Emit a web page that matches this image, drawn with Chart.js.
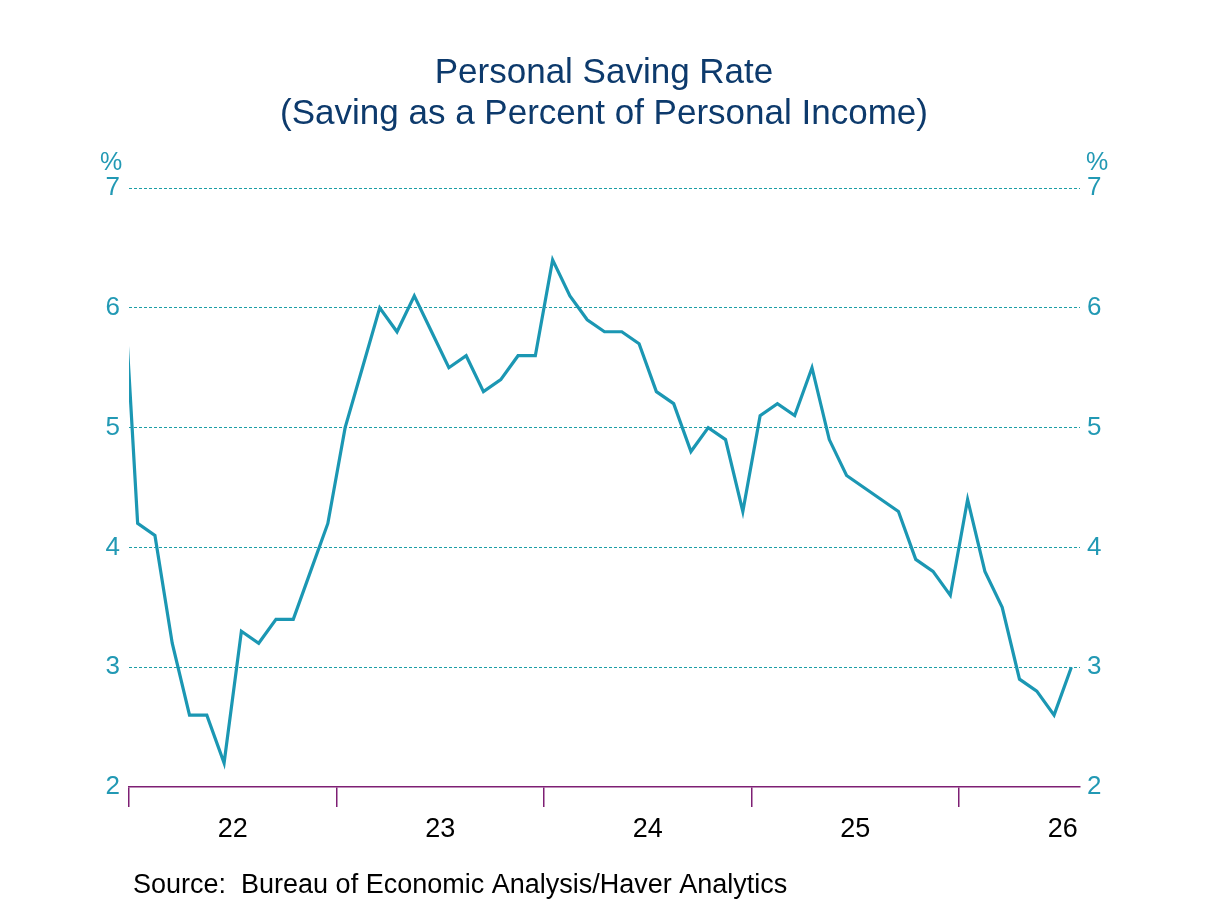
<!DOCTYPE html>
<html>
<head>
<meta charset="utf-8">
<title>Personal Saving Rate</title>
<script src="https://cdn.jsdelivr.net/npm/chart.js@4/dist/chart.umd.min.js"></script>
<style>
  html, body { margin: 0; padding: 0; background: #fff; }
  #wrap { width: 1208px; height: 906px; }
</style>
</head>
<body>
<div id="wrap"><canvas id="savingChart" width="1208" height="906"></canvas></div>
<script>
// monthly saving rate, Dec 2021 .. Jul 2026 (first point sits left of the axis and is clipped)
const months = [
    "Dec 21",
    "Jan 22","Feb 22","Mar 22","Apr 22","May 22","Jun 22","Jul 22","Aug 22","Sep 22","Oct 22","Nov 22","Dec 22",
    "Jan 23","Feb 23","Mar 23","Apr 23","May 23","Jun 23","Jul 23","Aug 23","Sep 23","Oct 23","Nov 23","Dec 23",
    "Jan 24","Feb 24","Mar 24","Apr 24","May 24","Jun 24","Jul 24","Aug 24","Sep 24","Oct 24","Nov 24","Dec 24",
    "Jan 25","Feb 25","Mar 25","Apr 25","May 25","Jun 25","Jul 25","Aug 25","Sep 25","Oct 25","Nov 25","Dec 25",
    "Jan 26","Feb 26","Mar 26","Apr 26","May 26","Jun 26","Jul 26"
];
const savingRate = [
    6.7,
    4.2, 4.1, 3.2, 2.6, 2.6, 2.2, 3.3, 3.2, 3.4, 3.4, 3.8, 4.2,
    5.0, 5.5, 6.0, 5.8, 6.1, 5.8, 5.5, 5.6, 5.3, 5.4, 5.6, 5.6,
    6.4, 6.1, 5.9, 5.8, 5.8, 5.7, 5.3, 5.2, 4.8, 5.0, 4.9, 4.3,
    5.1, 5.2, 5.1, 5.5, 4.9, 4.6, 4.5, 4.4, 4.3, 3.9, 3.8, 3.6,
    4.4, 3.8, 3.5, 2.9, 2.8, 2.6, 3.0
];
const yearLabels = ["22", "23", "24", "25", "26"];
const yTicks = [2, 3, 4, 5, 6, 7];

const FONT = "'Liberation Sans', Arial, sans-serif";
const TEAL = "#2299b4";
const NAVY = "#0d3a6c";
const PURPLE = "#7e1f74";

// x is months since Jan 2022; each value sits mid-month
const points = savingRate.map((v, i) => ({ x: i - 0.5, y: v }));
const lastMonth = months.length - 1; // axis runs to end of the last month

const textPlugin = {
    id: "texts",
    afterDraw(chart) {
        const ctx = chart.ctx;
        ctx.save();
        ctx.textBaseline = "middle";
        ctx.textAlign = "center";
        ctx.fillStyle = NAVY;
        ctx.font = "35px " + FONT;
        ctx.fillText("Personal Saving Rate", 604, 73);
        ctx.fillText("(Saving as a Percent of Personal Income)", 604, 114);

        ctx.fillStyle = TEAL;
        ctx.font = "25px " + FONT;
        ctx.fillText("%", 111, 163);
        ctx.fillText("%", 1097, 163);

        ctx.textAlign = "left";
        ctx.fillStyle = "#000";
        ctx.font = "27px " + FONT;
        ctx.fillText("Source:  Bureau of Economic Analysis/Haver Analytics", 133, 886);
        ctx.restore();
    }
};

new Chart(document.getElementById("savingChart"), {
    type: "line",
    data: {
        labels: months,
        datasets: [{
            data: points,
            borderColor: "#1b97b3",
            borderWidth: 3.2,
            pointRadius: 0,
            tension: 0,
            clip: 0
        }]
    },
    options: {
        responsive: false,
        animation: false,
        layout: { padding: { top: 188, left: 0, right: 0, bottom: 0 } },
        plugins: { legend: { display: false }, tooltip: { enabled: false } },
        scales: {
            x: {
                type: "linear",
                min: 0,
                max: lastMonth,
                afterFit: s => { s.height = 119; },
                afterBuildTicks: s => {
                    s.ticks = [];
                    for (let v = 0; v < lastMonth; v += 6) s.ticks.push({ value: v });
                },
                grid: {
                    drawOnChartArea: false,
                    tickLength: 20,
                    color: c => (c.tick && c.tick.value % 12 === 0) ? PURPLE : "rgba(0,0,0,0)",
                    lineWidth: 1.5
                },
                border: { color: PURPLE, width: 1.5 },
                ticks: {
                    autoSkip: false,
                    maxRotation: 0,
                    padding: 6,
                    color: "#000",
                    font: { family: FONT, size: 27 },
                    callback: v => (v % 12 === 6) ? yearLabels[(v - 6) / 12] : ""
                }
            },
            y: {
                position: "left",
                min: 2,
                max: 7,
                afterFit: s => { s.width = 129; },
                afterBuildTicks: s => { s.ticks = yTicks.map(v => ({ value: v })); },
                grid: {
                    drawTicks: false,
                    color: c => (c.tick && c.tick.value === 2) ? "rgba(0,0,0,0)" : "#1c9fa6",
                    lineWidth: 1
                },
                border: { display: false, dash: [3, 2] },
                ticks: { color: TEAL, padding: 9, font: { family: FONT, size: 26 } }
            },
            yRight: {
                position: "right",
                min: 2,
                max: 7,
                afterFit: s => { s.width = 128; },
                afterBuildTicks: s => { s.ticks = yTicks.map(v => ({ value: v })); },
                grid: { display: false, drawTicks: false },
                border: { display: false },
                ticks: { color: TEAL, padding: 7, font: { family: FONT, size: 26 } }
            }
        }
    },
    plugins: [textPlugin]
});
</script>
</body>
</html>
